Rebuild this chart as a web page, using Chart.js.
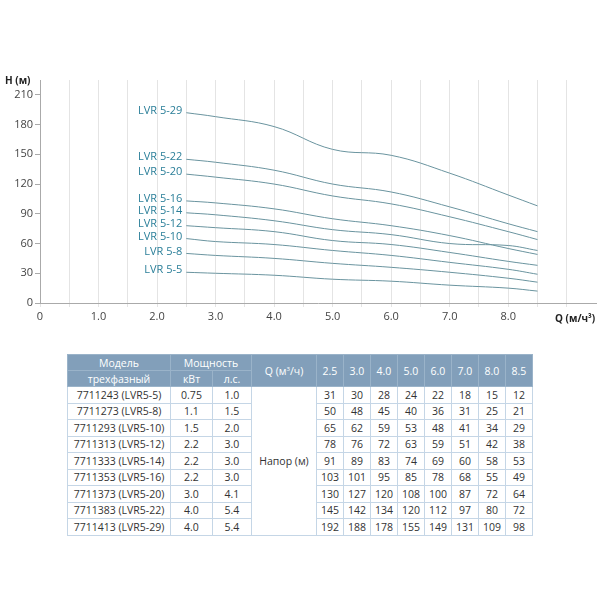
<!DOCTYPE html>
<html><head><meta charset="utf-8">
<script src="https://cdn.jsdelivr.net/npm/chart.js@4"></script>
<style>
body{margin:0;background:#fff;font-family:"Open Sans",sans-serif;}
#wrap{position:absolute;left:0;top:0;width:600px;height:330px;}
table{position:absolute;left:67px;top:354px;width:466px;border-collapse:collapse;font-size:10.5px;color:#333;table-layout:fixed;}
td,th{border:1px solid #c5d6e6;text-align:center;padding:0;height:15.5px;}
th{background:#829fba;color:#fff;font-weight:normal;height:15px;border-color:#9ab3c9;}
</style></head><body>
<div id="wrap"><canvas id="c"></canvas></div>
<table id="t"></table>
<script>
const flows=[2.5,3.0,4.0,5.0,6.0,7.0,8.0,8.5];
const models=["LVR 5-5","LVR 5-8","LVR 5-10","LVR 5-12","LVR 5-14","LVR 5-16","LVR 5-20","LVR 5-22","LVR 5-29"];
const codes=["7711243 (LVR5-5)","7711273 (LVR5-8)","7711293 (LVR5-10)","7711313 (LVR5-12)","7711333 (LVR5-14)","7711353 (LVR5-16)","7711373 (LVR5-20)","7711383 (LVR5-22)","7711413 (LVR5-29)"];
const kw=["0.75","1.1","1.5","2.2","2.2","2.2","3.0","4.0","4.0"];
const hp=["1.0","1.5","2.0","3.0","3.0","3.0","4.1","5.4","5.4"];
const h5_5=[31,30,28,24,22,18,15,12];
const h5_8=[50,48,45,40,36,31,25,21];
const h5_10=[65,62,59,53,48,41,34,29];
const h5_12=[78,76,72,63,59,51,42,38];
const h5_14=[91,89,83,74,69,60,58,53];
const h5_16=[103,101,95,85,78,68,55,49];
const h5_20=[130,127,120,108,100,87,72,64];
const h5_22=[145,142,134,120,112,97,80,72];
const h5_29=[192,188,178,155,149,131,109,98];
const heads=[h5_5,h5_8,h5_10,h5_12,h5_14,h5_16,h5_20,h5_22,h5_29];
const yTicks=[0,15,30,45,60,75,90,105,120,135,150,165,180,195,210];
const xTickLabels={0:"0",1:"1.0",2:"2.0",3:"3.0",4:"4.0",5:"5.0",6:"6.0",7:"7.0",8:"8.0"};

const labelPlugin={id:'lbl',afterDatasetsDraw(ch){
 const c=ch.ctx;c.save();c.font='11px "Open Sans"';c.fillStyle='#2b7f99';c.textAlign='right';c.textBaseline='middle';
 ch.data.datasets.forEach((d,i)=>{const p=ch.getDatasetMeta(i).data[0];c.fillText(d.label,p.x-4,p.y-2);});
 c.fillStyle='#222';c.font='bold 10px "Open Sans"';c.textAlign='left';
 c.fillText('H (м)',5,81);
 c.fillText('Q (м/ч³)',555,319);
 c.restore();}};

new Chart(document.getElementById('c'),{type:'line',
 data:{datasets:heads.map((h,i)=>({label:models[i],data:flows.map((f,j)=>({x:f,y:h[j]})),borderColor:'#6a949f',borderWidth:1,pointRadius:0,tension:0.4,fill:false}))},
 options:{responsive:true,maintainAspectRatio:false,animation:false,
  layout:{padding:{top:80,right:4,left:0,bottom:0}},
  plugins:{legend:{display:false},tooltip:{enabled:false}},
  scales:{
   x:{type:'linear',min:0,max:9.5,afterFit(s){s.height=27;},
     afterBuildTicks(s){s.ticks=[];for(let v=0;v<=9;v+=0.5)s.ticks.push({value:v});},
     grid:{color:'#e4e4e4',tickLength:4},border:{color:'#aaa'},
     ticks:{color:'#444',font:{size:11,family:'Open Sans'},maxRotation:0,autoSkip:false,callback:v=>xTickLabels[v]??''}},
   y:{min:0,max:225,afterFit(s){s.width=40;},
     afterBuildTicks(s){s.ticks=yTicks.map(v=>({value:v}));},
     grid:{drawOnChartArea:false,tickLength:5,color:'#aaa'},border:{color:'#aaa'},
     ticks:{color:'#444',font:{size:11,family:'Open Sans'},padding:2}}}},
 plugins:[labelPlugin]});

const t=document.getElementById('t');
let html='<colgroup><col style="width:103px"><col style="width:42px"><col style="width:39px"><col style="width:65px">'+flows.map(()=>'<col>').join('')+'</colgroup>';
html+='<tr><th>Модель</th><th colspan="2">Мощность</th><th rowspan="2">Q (м<sup style="font-size:6px">3</sup>/ч)</th>'+flows.map(f=>'<th rowspan="2">'+f.toFixed(1)+'</th>').join('')+'</tr>';
html+='<tr><th>трехфазный</th><th>кВт</th><th>л.с.</th></tr>';
codes.forEach((c,i)=>{html+='<tr><td>'+c+'</td><td>'+kw[i]+'</td><td>'+hp[i]+'</td>'+(i==0?'<td rowspan="9">Напор (м)</td>':'')+heads[i].map(v=>'<td>'+v+'</td>').join('')+'</tr>';});
t.innerHTML=html;
</script></body></html>
